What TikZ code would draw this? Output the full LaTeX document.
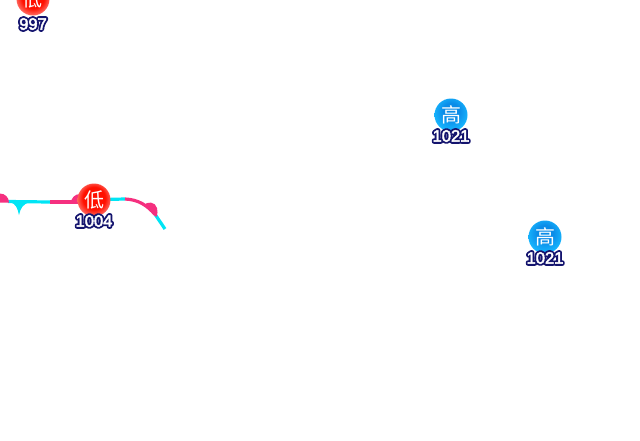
\documentclass[tikz,border=0pt]{standalone}
\usepackage{fontspec}
\setmainfont{Liberation Sans}
\newfontfamily\cjk{Noto Sans CJK SC}
\definecolor{halo}{HTML}{14146E}
\definecolor{coldfront}{HTML}{00E5F5}
\definecolor{warmfront}{HTML}{F5307F}
\definecolor{lowmid}{HTML}{FF1000}
\definecolor{lowrim}{HTML}{FF7068}
\definecolor{highmid}{HTML}{0A8CE8}
\definecolor{highrim}{HTML}{18B8FF}
\pgfdeclareradialshading{lowball}{\pgfpoint{0bp}{4bp}}{%
  color(0bp)=(lowmid); color(17bp)=(lowmid); color(27bp)=(lowrim); color(50bp)=(lowrim)}
\pgfdeclareradialshading{highball}{\pgfpoint{0bp}{8bp}}{%
  color(0bp)=(highmid); color(12bp)=(highmid); color(28bp)=(highrim); color(50bp)=(highrim)}
% white digits on a dark outline
\newcommand{\halonum}[1]{\rlap{\special{pdf:code q 1 j 4.2 w 0.05 0.05 0.38 RG 0.05 0.05 0.38 rg 2 Tr}\textcolor{halo}{#1}\special{pdf:code 0 Tr Q}}\special{pdf:code q 0.45 w 1 1 1 RG 1 1 1 rg 2 Tr}\textcolor{white}{#1}\special{pdf:code 0 Tr Q}}
\tikzset{
  low/.style={circle, minimum size=33pt, inner sep=0pt, shading=lowball, text=white, font=\cjk\fontsize{20}{20}\selectfont},
  high/.style={circle, minimum size=33pt, inner sep=0pt, shading=highball, text=white, font=\cjk\fontsize{20}{20}\selectfont},
  pressure/.style={inner sep=0pt, font=\fontsize{16.5}{16.5}\selectfont},
  cold/.style={draw=coldfront, line width=3.2pt},
  warm/.style={draw=warmfront, line width=3.2pt},
}
\begin{document}
\begin{tikzpicture}[x=1pt, y=-1pt]
  \useasboundingbox (0,0) rectangle (640,440);

  % fronts
  \draw[cold] (8,201.5) -- (50,202);
  \fill[coldfront] (10,202) .. controls (16,204) and (17.5,208) .. (19,215) .. controls (20.5,208) and (23,204) .. (30,202) -- cycle;
  \draw[warm] (50,202) -- (84,202);
  \draw[cold] (104,199.5) -- (125,199);
  \draw[warm] (125,199) .. controls (138,199.5) and (147,205) .. (155.5,215);
  \draw[cold] (155.5,215) -- (165,229);
  \fill[warmfront] (-9,202.5) arc[start angle=180, end angle=360, radius=9];
  \fill[warmfront] (71,203) arc[start angle=180, end angle=360, radius=9];
  \fill[warmfront] (144,205.5) .. controls (146.5,201) and (155.5,201.5) .. (157,208) .. controls (158,211) and (157.5,214) .. (156.5,217) -- cycle;

  % centres
  \node[low] (lowa) at (33,-1) {低};
  \node[pressure] (pa) at (33,24) {\halonum{997}};
  \node[low] (lowb) at (94,200) {低};
  \node[pressure] (pb) at (94,221) {\halonum{1004}};
  \node[high] (higha) at (451,115) {高};
  \node[pressure] (pc) at (451,136) {\halonum{1021}};
  \node[high] (highb) at (545,237) {高};
  \node[pressure] (pd) at (545,258) {\halonum{1021}};
\end{tikzpicture}
\end{document}
